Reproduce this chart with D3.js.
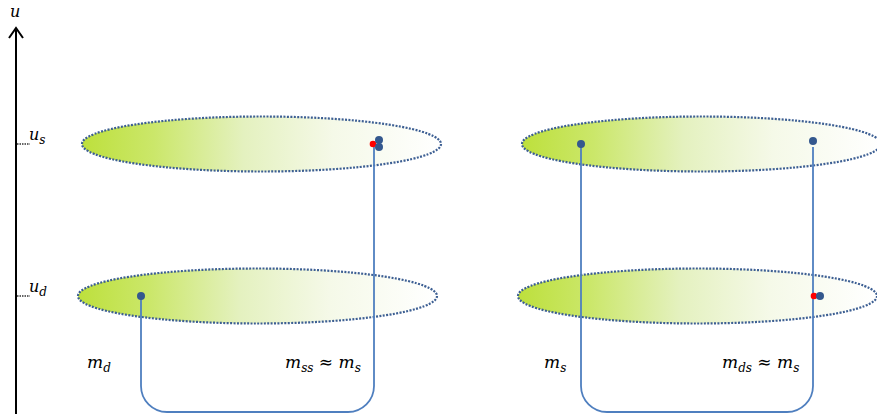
<!DOCTYPE html>
<html><head><meta charset="utf-8">
<script src="https://cdn.jsdelivr.net/npm/d3@7"></script>
<style>html,body{margin:0;padding:0;background:#fff;}svg{display:block;}</style>
</head><body>
<svg id="c" width="877" height="414"></svg>
<script>
// ---- data ----
const levels = ["s", "d"];                 // energy levels u_s, u_d
const levelValues = [1, 0];                // relative height of each level
const panels = ["left", "right"];
const ellipseLeft = [82, 78, 522, 518];    // left edge of ellipse (top-left, bottom-left, top-right, bottom-right)
const ellipseWidth = 359;
// connector endpoints: [panel, start level, start x, end level, end x]
const connStartX = [141, 581];
const connStartLevel = ["d", "s"];
const connEndX = [374, 813];
const connEndLevel = ["s", "s"];
// dots: x, level, colour kind
const dotX = [379, 379, 141, 581, 813, 820];
const dotDy = [-4, 3, 0, 0, -3, 0];
const dotLevel = ["s", "s", "d", "s", "s", "d"];
const redX = [373, 814];
const redLevel = ["s", "d"];
const labelX = [87, 285, 544, 722];
const labelMain = ["m", "m", "m", "m"];
const labelSub = ["d", "ss", "s", "ds"];
const labelTail = ["", " ≈ m", "", " ≈ m"];
const labelTailSub = ["", "s", "", "s"];

const svg = d3.select("#c");
const W = 877, H = 414;
const x = d3.scaleLinear().domain([0, W]).range([0, W]);
const y = d3.scaleLinear().domain([0, 1]).range([296, 144]);
const levelY = l => y(levelValues[levels.indexOf(l)]);

// gradient
const defs = svg.append("defs");
const g = defs.append("linearGradient").attr("id", "gr").attr("x1", "0").attr("x2", "1").attr("y1", "0").attr("y2", "0");
[[0, "#bde03c"], [0.2, "#cbe76a"], [0.45, "#e4f1bf"], [0.7, "#f5f9e8"], [1, "#ffffff"]]
  .forEach(([o, c]) => g.append("stop").attr("offset", o).attr("stop-color", c));

// axis
svg.append("line").attr("x1", 16).attr("x2", 16).attr("y1", 30).attr("y2", H)
  .attr("stroke", "#000").attr("stroke-width", 2);
svg.append("path").attr("d", "M9,38 L16,28 L23,38").attr("fill", "none").attr("stroke", "#000").attr("stroke-width", 2);
const serif = "'DejaVu Serif', 'Liberation Serif', serif";
svg.append("text").attr("x", 10).attr("y", 17).attr("font-family", serif).attr("font-style", "italic")
  .attr("font-size", 16).text("u");

levels.forEach(l => {
  const yy = levelY(l);
  svg.append("line").attr("x1", 17).attr("x2", 30).attr("y1", yy).attr("y2", yy)
    .attr("stroke", "#333").attr("stroke-width", 1.5).attr("stroke-dasharray", "1.5,1");
  const t = svg.append("text").attr("x", 29).attr("y", yy - 4).attr("font-family", serif)
    .attr("font-style", "italic").attr("font-size", 16);
  t.append("tspan").text("u");
  t.append("tspan").attr("dy", 4).attr("font-size", 12).text(l);
});

// ellipses
const ells = [];
panels.forEach((p, pi) => levels.forEach((l, li) => ells.push({ left: ellipseLeft[pi * 2 + li], l })));
svg.selectAll("ellipse").data(ells).join("ellipse")
  .attr("cx", d => x(d.left + ellipseWidth / 2)).attr("cy", d => levelY(d.l))
  .attr("rx", ellipseWidth / 2).attr("ry", 27.5)
  .attr("fill", "url(#gr)").attr("stroke", "#3d5f93").attr("stroke-width", 2.2)
  .attr("stroke-dasharray", "2,1.4");

// connectors
const yb = 412, r = 26;
connStartX.forEach((sx, i) => {
  const x1 = x(sx), y1 = levelY(connStartLevel[i]);
  const x2 = x(connEndX[i]), y2 = levelY(connEndLevel[i]) + 3;
  const p = d3.path();
  p.moveTo(x1, y1);
  p.lineTo(x1, yb - r);
  p.arcTo(x1, yb, x1 + r, yb, r);
  p.lineTo(x2 - r, yb);
  p.arcTo(x2, yb, x2, yb - r, r);
  p.lineTo(x2, y2);
  svg.append("path").attr("d", p.toString()).attr("fill", "none")
    .attr("stroke", "#4f7fbf").attr("stroke-width", 1.8);
});

// dots
svg.selectAll("circle.red").data(redX).join("circle").attr("class", "red")
  .attr("cx", d => x(d)).attr("cy", (d, i) => levelY(redLevel[i])).attr("r", 3.3).attr("fill", "#ff0000");
svg.selectAll("circle.blue").data(dotX).join("circle").attr("class", "blue")
  .attr("cx", d => x(d)).attr("cy", (d, i) => levelY(dotLevel[i]) + dotDy[i]).attr("r", 4).attr("fill", "#34588e");

// labels
labelX.forEach((lx, i) => {
  const t = svg.append("text").attr("x", x(lx)).attr("y", 368).attr("font-family", serif)
    .attr("font-style", "italic").attr("font-size", 17);
  t.append("tspan").text(labelMain[i]);
  t.append("tspan").attr("dy", 4).attr("font-size", 12).text(labelSub[i]);
  if (labelTail[i]) {
    t.append("tspan").attr("dy", -4).attr("font-size", 17).text(labelTail[i]);
    t.append("tspan").attr("dy", 4).attr("font-size", 12).text(labelTailSub[i]);
  }
});
</script>
</body></html>
